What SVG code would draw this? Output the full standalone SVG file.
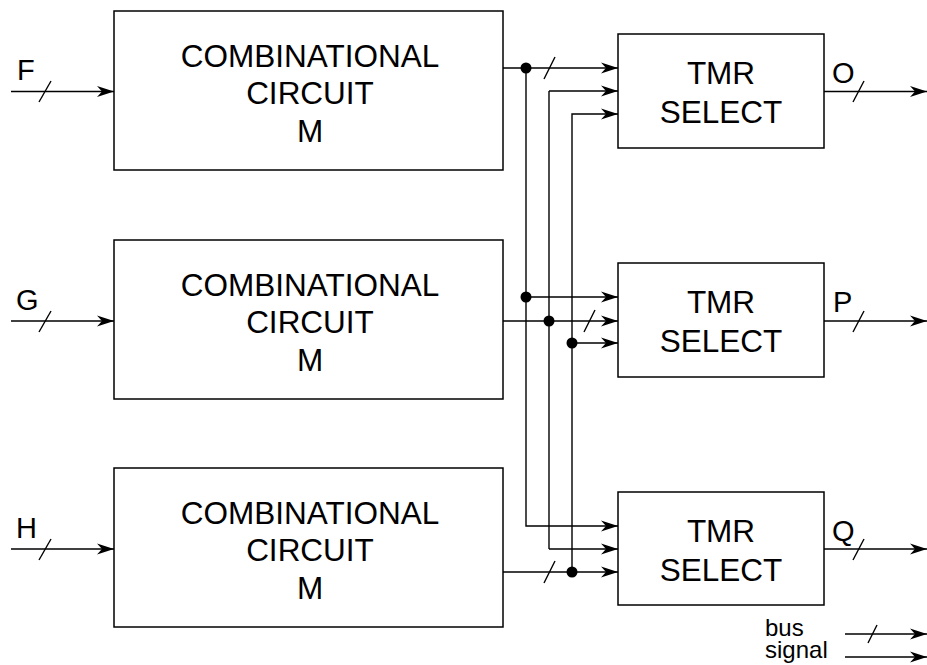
<svg xmlns="http://www.w3.org/2000/svg" width="927" height="665" viewBox="0 0 927 665">
<defs>
<marker id="ah" markerUnits="userSpaceOnUse" markerWidth="17" markerHeight="12" refX="17" refY="5.5" orient="auto" viewBox="0 0 17 11">
<path d="M0,0 L17,5.5 L0,11 L5,5.5 z" fill="#000"/>
</marker>
<style>
.box{fill:#fff;stroke:#000;stroke-width:1.5}
.ln{fill:none;stroke:#000;stroke-width:1.4}
.ar{fill:none;stroke:#000;stroke-width:1.4;marker-end:url(#ah)}
.sl{stroke:#000;stroke-width:1.4}
.dot{fill:#000}
text{font-family:"Liberation Sans",Arial,sans-serif;fill:#000}
.big{font-size:31.5px;text-anchor:middle}
.lbl{font-size:29px}
.leg{font-size:24px}
</style>
</defs>

<g id="comb1">
<rect class="box" x="114" y="11" width="389" height="159"/>
<text class="big" x="310" y="67">COMBINATIONAL</text>
<text class="big" x="310" y="104">CIRCUIT</text>
<text class="big" x="310" y="142">M</text>
</g>
<g id="comb2">
<rect class="box" x="114" y="240" width="389" height="159"/>
<text class="big" x="310" y="296">COMBINATIONAL</text>
<text class="big" x="310" y="333">CIRCUIT</text>
<text class="big" x="310" y="371">M</text>
</g>
<g id="comb3">
<rect class="box" x="114" y="468" width="389" height="159"/>
<text class="big" x="310" y="524">COMBINATIONAL</text>
<text class="big" x="310" y="561">CIRCUIT</text>
<text class="big" x="310" y="599">M</text>
</g>

<g id="tmr1">
<rect class="box" x="618" y="34" width="206" height="114"/>
<text class="big" x="721" y="84">TMR</text>
<text class="big" x="721" y="123">SELECT</text>
</g>
<g id="tmr2">
<rect class="box" x="618" y="263" width="206" height="114"/>
<text class="big" x="721" y="313">TMR</text>
<text class="big" x="721" y="352">SELECT</text>
</g>
<g id="tmr3">
<rect class="box" x="618" y="492" width="206" height="113"/>
<text class="big" x="721" y="542">TMR</text>
<text class="big" x="721" y="581">SELECT</text>
</g>

<g id="labels">
<text class="lbl" x="17" y="80">F</text>
<text class="lbl" x="16" y="310">G</text>
<text class="lbl" x="16" y="538">H</text>
<text class="lbl" x="832" y="83">O</text>
<text class="lbl" x="833" y="312">P</text>
<text class="lbl" x="832" y="541">Q</text>
</g>

<g id="connectors">
<line class="ar" x1="11" y1="91.5" x2="114" y2="91.5"/>
<line class="sl" x1="39" y1="102" x2="51" y2="81"/>
<line class="ar" x1="11" y1="321" x2="114" y2="321"/>
<line class="sl" x1="39" y1="332" x2="51" y2="311"/>
<line class="ar" x1="11" y1="549" x2="114" y2="549"/>
<line class="sl" x1="39" y1="560" x2="51" y2="539"/>

<line class="ar" x1="824" y1="91.5" x2="927" y2="91.5"/>
<line class="sl" x1="853" y1="102" x2="864" y2="81"/>
<line class="ar" x1="824" y1="321" x2="927" y2="321"/>
<line class="sl" x1="853" y1="332" x2="864" y2="311"/>
<line class="ar" x1="824" y1="549" x2="927" y2="549"/>
<line class="sl" x1="853" y1="560" x2="864" y2="539"/>

<line class="ar" x1="503" y1="68" x2="618" y2="68"/>
<line class="sl" x1="544" y1="79" x2="555" y2="57"/>
<polyline class="ar" points="526,68 526,526 618,526"/>
<line class="ar" x1="526" y1="297" x2="618" y2="297"/>

<line class="ar" x1="503" y1="321" x2="618" y2="321"/>
<line class="sl" x1="584" y1="332" x2="595" y2="310"/>
<line class="ln" x1="549" y1="91" x2="549" y2="549"/>
<line class="ar" x1="549" y1="91" x2="618" y2="91"/>
<line class="ar" x1="549" y1="549" x2="618" y2="549"/>

<line class="ar" x1="503" y1="572" x2="618" y2="572"/>
<line class="sl" x1="544" y1="583" x2="555" y2="561"/>
<polyline class="ar" points="572,572 572,114 618,114"/>
<line class="ar" x1="572" y1="343" x2="618" y2="343"/>

<circle class="dot" cx="526" cy="68" r="5.5"/>
<circle class="dot" cx="526" cy="297" r="5.5"/>
<circle class="dot" cx="549" cy="321" r="5.5"/>
<circle class="dot" cx="572" cy="343" r="5.5"/>
<circle class="dot" cx="572" cy="572" r="5.5"/>
</g>

<g id="legend">
<text class="leg" x="765" y="636">bus</text>
<text class="leg" x="765" y="658">signal</text>
<line class="ar" x1="845" y1="634" x2="927" y2="634"/>
<line class="sl" x1="868" y1="643" x2="877" y2="625"/>
<line class="ar" x1="845" y1="657" x2="927" y2="657"/>
</g>
</svg>
